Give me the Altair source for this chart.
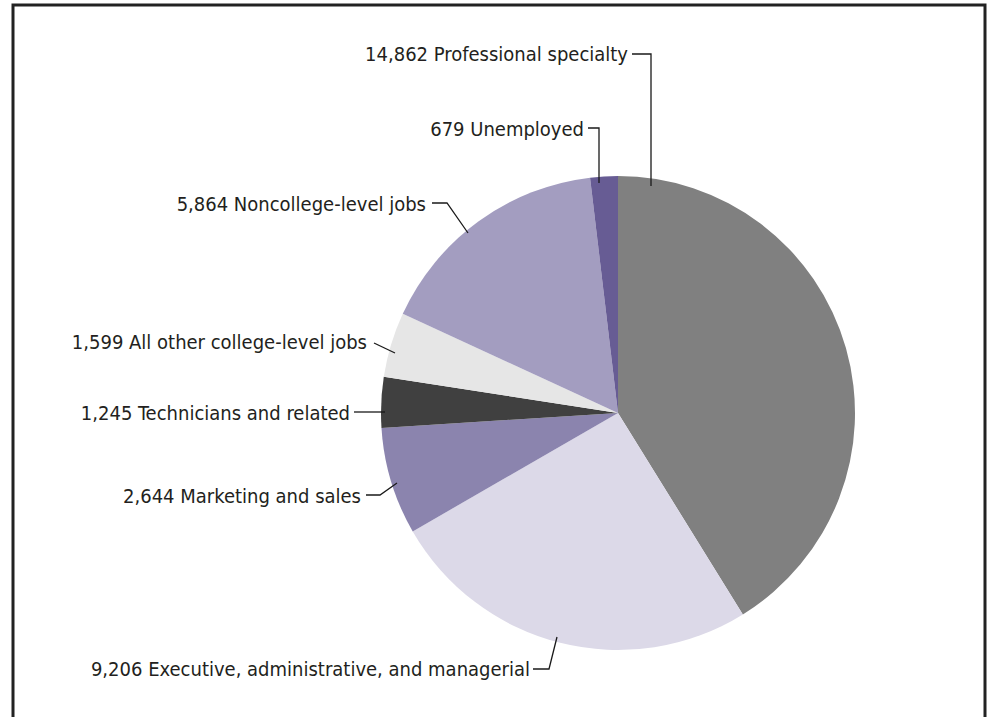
import altair as alt
import pandas as pd

# ---- data ----
categories = [
    "Professional specialty",
    "Executive, administrative, and managerial",
    "Marketing and sales",
    "Technicians and related",
    "All other college-level jobs",
    "Noncollege-level jobs",
    "Unemployed",
]
values = [14862, 9206, 2644, 1245, 1599, 5864, 679]
colors = ["#808080", "#dcd9e8", "#8b84ae", "#404040", "#e6e6e6", "#a39dc0", "#675c94"]

# ---- label layout (pixel positions of annotations) ----
label_x = [628, 530, 361, 350, 367, 426, 584]          # right edge of each label
label_y = [61, 676, 503, 420, 349, 211, 136]           # text baseline
leader_x = [[632, 651, 651], [533, 549, 557], [366, 380, 397], [354, 385],
            [374, 395], [432, 447, 468], [588, 599, 599]]
leader_y = [[54, 54, 186], [669, 669, 637], [495, 495, 483], [412, 412],
            [343, 353], [203, 203, 233], [128, 128, 183]]

W, H = 991, 717
CX, CY, R = 618, 413, 237
FONT = "DejaVu Sans Condensed"

pie_df = pd.DataFrame({"category": categories, "value": values, "idx": list(range(len(values)))})
lab_df = pd.DataFrame({
    "text": [f"{v:,} {c}" for v, c in zip(values, categories)],
    "x": label_x, "y": label_y,
})
rows = []
for i, (xs, ys) in enumerate(zip(leader_x, leader_y)):
    for j, (a, b) in enumerate(zip(xs, ys)):
        rows.append({"g": i, "k": j, "x": a, "y": b})
lead_df = pd.DataFrame(rows)

pie = alt.Chart(pie_df).mark_arc(outerRadius=R, stroke=None).encode(
    theta=alt.Theta("value:Q", stack=True),
    order=alt.Order("idx:Q"),
    color=alt.Color("category:N", scale=alt.Scale(domain=categories, range=colors), legend=None),
    x=alt.value(CX),
    y=alt.value(CY),
)

leaders = alt.Chart(lead_df).mark_line(color="#1a1a1a", strokeWidth=1.3).encode(
    x=alt.X("x:Q", scale=None),
    y=alt.Y("y:Q", scale=None),
    detail="g:N",
    order="k:Q",
)

labels = alt.Chart(lab_df).mark_text(
    align="right", baseline="alphabetic", font=FONT, fontSize=20, color="#231f20"
).encode(
    x=alt.X("x:Q", scale=None),
    y=alt.Y("y:Q", scale=None),
    text="text:N",
)

frame = alt.Chart(pd.DataFrame({"a": [0]})).mark_rect(
    fill=None, stroke="#222222", strokeWidth=3
).encode(x=alt.value(13), x2=alt.value(985), y=alt.value(5), y2=alt.value(740))

chart = alt.layer(frame, pie, leaders, labels).properties(
    width=W, height=H, padding=0, autosize="none", background="white"
).configure_view(stroke=None)

chart.save("out.html", embed_options={"renderer": "svg", "actions": False})
